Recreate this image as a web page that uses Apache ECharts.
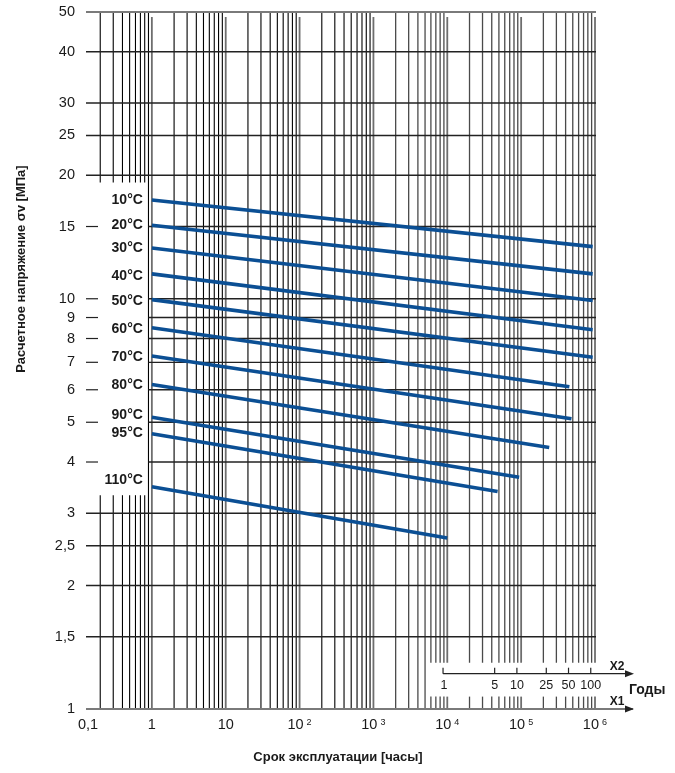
<!DOCTYPE html>
<html><head><meta charset="utf-8">
<script src="https://cdn.jsdelivr.net/npm/echarts@6/dist/echarts.min.js"></script>
<style>html,body{margin:0;padding:0;background:#fff}#c{width:675px;height:773px}</style>
</head><body><div id="c"></div>
<script>
// ---- data ----
const yTickValues = [1, 1.5, 2, 2.5, 3, 4, 5, 6, 7, 8, 9, 10, 15, 20, 25, 30, 40, 50];
const yTickLabels = ['1', '1,5', '2', '2,5', '3', '4', '5', '6', '7', '8', '9', '10', '15', '20', '25', '30', '40', '50'];
const xTickValues = [0.1, 1, 10, 100, 1000, 10000, 100000, 1000000];
const xTickBase = ['0,1', '1', '10', '10', '10', '10', '10', '10'];
const xTickExp = ['', '', '', '2', '3', '4', '5', '6'];
const yearTicks = [1, 5, 10, 25, 50, 100];
const yearLabels = ['1', '5', '10', '25', '50', '100'];
const HOURS_PER_YEAR = 8760;
const temps = ['10°C', '20°C', '30°C', '40°C', '50°C', '60°C', '70°C', '80°C', '90°C', '95°C', '110°C'];
const startHours = [1, 1, 1, 1, 1, 1, 1, 1, 1, 1, 1];
const startStress = [17.4, 15.1, 13.3, 11.5, 9.95, 8.5, 7.25, 6.18, 5.14, 4.69, 3.48];
const endHours = [9.3e5, 9.3e5, 9.3e5, 9.3e5, 9.3e5, 4.5e5, 4.8e5, 2.4e5, 9.4e4, 4.8e4, 1e4];
const endStress = [13.4, 11.5, 9.9, 8.4, 7.2, 6.1, 5.1, 4.34, 3.67, 3.39, 2.61];

// ---- layout / style constants ----
const labelDy = [0, 0, 0, 2, 1, 1, 1, 1, -2, -1, -7];
const FONT = '"Liberation Sans", Arial, sans-serif';
const TXT = '#1a1a1a';
const LINE_BLUE = '#0b4f94';
const BOX_Y_TOP = 19.2, BOX_Y_BOTTOM = 3.32, BOX_X_EDGE = 0.9;   // label box (left)
const BR_X = 5500, BR_Y_TOP = 1.297, BR_Y_BOTTOM = 1.072;         // X2 box (bottom-right)

// vertical grid values
const vLines = [];
for (let k = -1; k <= 5; k++) {
  for (let m = 1; m <= 9; m++) {
    const v = m * Math.pow(10, k);
    if (v === 0.1) continue;
    vLines.push([v, m === 1 ? 1 : 0]);
  }
}
vLines.push([1e6, 1]);
const vData = [];
vLines.forEach(([v, dec]) => {
  if (v < BOX_X_EDGE - 1e-9) {
    vData.push([v, 50, BOX_Y_TOP, dec]);
    vData.push([v, BOX_Y_BOTTOM, 1, dec]);
  } else if (v > BR_X) {
    vData.push([v, 50, BR_Y_TOP, dec]);
    vData.push([v, BR_Y_BOTTOM, 1, dec]);
  } else {
    vData.push([v, 50, 1, dec]);
  }
});

const chart = echarts.init(document.getElementById('c'), null, {renderer: 'canvas'});

const series = [];

// vertical grid
series.push({
  type: 'custom', z: 1, silent: true,
  data: vData,
  renderItem(params, api) {
    const x = api.value(0), y1 = api.value(1), y2 = api.value(2), dec = api.value(3);
    const p1 = api.coord([x, y1]), p2 = api.coord([x, y2]);
    let top = p1[1];
    if (dec === 1 && y1 === 50) top += 5;
    let stroke, lw;
    if (dec === 1) { stroke = '#6e6e6e'; lw = 1.8; }
    else if (x < 1000) { stroke = '#000'; lw = 1.1; }
    else { stroke = '#4a4a4a'; lw = 1.3; }
    return {type: 'line', shape: {x1: p1[0], y1: top, x2: p2[0], y2: p2[1]}, style: {stroke, lineWidth: lw}};
  }
});

// horizontal grid
series.push({
  type: 'custom', z: 1, silent: true,
  data: yTickValues.map(v => [1, v]),
  renderItem(params, api) {
    const cs = params.coordSys;
    const v = api.value(1);
    const y = api.coord([1, v])[1];
    const left = cs.x + 8, right = cs.x + cs.width + 1;
    if (v === 1) {
      return {type: 'line', shape: {x1: left, y1: y, x2: right + 37, y2: y}, style: {stroke: '#7a7a7a', lineWidth: 2}};
    }
    if (v === 50) {
      return {type: 'line', shape: {x1: left, y1: y, x2: right, y2: y}, style: {stroke: '#7a7a7a', lineWidth: 1.8}};
    }
    if (v > BOX_Y_BOTTOM && v < BOX_Y_TOP) {
      const xs = api.coord([BOX_X_EDGE, v])[0];
      return {type: 'group', children: [
        {type: 'line', shape: {x1: left, y1: y, x2: left + 12, y2: y}, style: {stroke: '#222', lineWidth: 1.2}},
        {type: 'line', shape: {x1: xs, y1: y, x2: right, y2: y}, style: {stroke: '#222', lineWidth: 1.3}}
      ]};
    }
    return {type: 'line', shape: {x1: left, y1: y, x2: right, y2: y}, style: {stroke: '#222', lineWidth: 1.3}};
  }
});

// y tick labels
series.push({
  type: 'custom', z: 3, silent: true,
  data: yTickValues.map((v, i) => [0.1, v, i]),
  renderItem(params, api) {
    const p = api.coord([0.1, api.value(1)]);
    return {type: 'text', x: p[0] - 3, y: p[1],
      style: {text: yTickLabels[api.value(2)], textAlign: 'right', textVerticalAlign: 'middle', font: '14.5px ' + FONT, fill: TXT}};
  }
});

// x tick labels
series.push({
  type: 'custom', z: 3, silent: true,
  data: xTickValues.map((v, i) => [v, 1, i]),
  renderItem(params, api) {
    const i = api.value(2);
    const p = api.coord([api.value(0), 1]);
    const y = p[1] + 16;
    if (!xTickExp[i]) {
      const first = i === 0;
      return {type: 'text', x: p[0], y,
        style: {text: xTickBase[i], textAlign: first ? 'left' : 'center', textVerticalAlign: 'middle', font: '14.5px ' + FONT, fill: TXT}};
    }
    return {type: 'group', children: [
      {type: 'text', x: p[0] + 4, y, style: {text: xTickBase[i], textAlign: 'right', textVerticalAlign: 'middle', font: '14.5px ' + FONT, fill: TXT}},
      {type: 'text', x: p[0] + 7, y: y - 2.5, style: {text: xTickExp[i], textAlign: 'left', textVerticalAlign: 'middle', font: '9px ' + FONT, fill: TXT}}
    ]};
  }
});

// temperature curves
temps.forEach((t, i) => {
  series.push({
    type: 'line', name: t, z: 5, showSymbol: false, silent: true,
    data: [[startHours[i], startStress[i]], [endHours[i], endStress[i]]],
    lineStyle: {color: LINE_BLUE, width: 3.6},
    itemStyle: {color: LINE_BLUE}
  });
});

// temperature labels
series.push({
  type: 'custom', z: 4, silent: true,
  data: temps.map((t, i) => [startHours[i], startStress[i], i]),
  renderItem(params, api) {
    const i = api.value(2);
    const p = api.coord([api.value(0), api.value(1)]);
    return {type: 'text', x: p[0] - 9, y: p[1] + labelDy[i],
      style: {text: temps[i], textAlign: 'right', textVerticalAlign: 'middle', font: 'bold 14px ' + FONT, fill: TXT}};
  }
});

// X2 (years) axis
series.push({
  type: 'custom', z: 4, silent: true,
  data: yearTicks.map((yr, i) => [yr * HOURS_PER_YEAR, 1, i]),
  renderItem(params, api) {
    const cs = params.coordSys;
    const i = api.value(2);
    const x = api.coord([api.value(0), 1])[0];
    const yLine = cs.y + cs.height - 35.3;
    const children = [
      {type: 'line', shape: {x1: x, y1: yLine - 6, x2: x, y2: yLine}, style: {stroke: '#222', lineWidth: 1.2}},
      {type: 'text', x: x + (i === 0 ? 1 : 0), y: yLine + 12, style: {text: yearLabels[i], textAlign: 'center', textVerticalAlign: 'middle', font: '12.5px ' + FONT, fill: TXT}}
    ];
    if (i === 0) {
      const right = cs.x + cs.width;
      const tip = right + 39;
      const yAx = cs.y + cs.height;
      children.push(
        {type: 'line', shape: {x1: x, y1: yLine, x2: tip - 6, y2: yLine}, style: {stroke: '#222', lineWidth: 1.2}},
        {type: 'polygon', shape: {points: [[tip, yLine], [tip - 9, yLine - 3.5], [tip - 9, yLine + 3.5]]}, style: {fill: '#222'}},
        {type: 'polygon', shape: {points: [[tip, yAx], [tip - 9, yAx - 3.5], [tip - 9, yAx + 3.5]]}, style: {fill: '#222'}},
        {type: 'text', x: right + 22, y: yLine - 7, style: {text: 'X2', textAlign: 'center', textVerticalAlign: 'middle', font: 'bold 12px ' + FONT, fill: TXT}},
        {type: 'text', x: right + 22, y: yAx - 7, style: {text: 'X1', textAlign: 'center', textVerticalAlign: 'middle', font: 'bold 12px ' + FONT, fill: TXT}},
        {type: 'text', x: right + 34, y: yLine + 16, style: {text: 'Годы', textAlign: 'left', textVerticalAlign: 'middle', font: 'bold 14px ' + FONT, fill: TXT}}
      );
    }
    return {type: 'group', children};
  }
});

chart.setOption({
  animation: false,
  backgroundColor: '#fff',
  grid: {left: 78, right: 80, top: 12, bottom: 64, containLabel: false},
  xAxis: {type: 'log', logBase: 10, min: 0.1, max: 1e6, show: false},
  yAxis: {type: 'log', logBase: 10, min: 1, max: 50, show: false},
  graphic: [
    {type: 'text', x: 21, y: 269, rotation: Math.PI / 2,
      style: {text: 'Расчетное напряжение σv [МПа]', textAlign: 'center', textVerticalAlign: 'middle', font: 'bold 13px ' + FONT, fill: TXT}},
    {type: 'text', x: 338, y: 757,
      style: {text: 'Срок эксплуатации [часы]', textAlign: 'center', textVerticalAlign: 'middle', font: 'bold 13px ' + FONT, fill: TXT}}
  ],
  series
});
</script>
</body></html>
